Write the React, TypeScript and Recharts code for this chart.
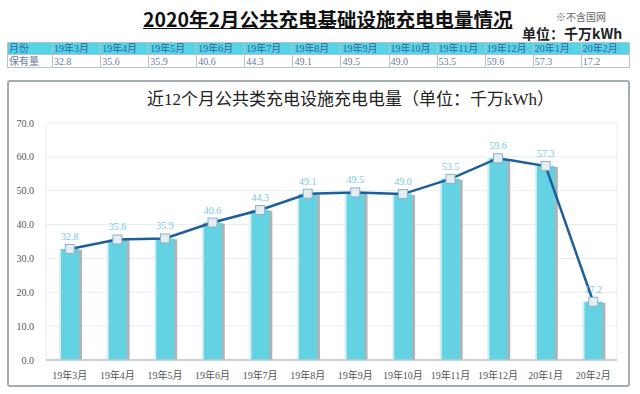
import React from "react";
import {
  ComposedChart,
  Bar,
  Line,
  XAxis,
  YAxis,
  CartesianGrid,
  LabelList,
} from "recharts";

const MONTHS = [
  "19年3月",
  "19年4月",
  "19年5月",
  "19年6月",
  "19年7月",
  "19年8月",
  "19年9月",
  "19年10月",
  "19年11月",
  "19年12月",
  "20年1月",
  "20年2月",
];
const VALUES = [32.8, 35.6, 35.9, 40.6, 44.3, 49.1, 49.5, 49.0, 53.5, 59.6, 57.3, 17.2];
const Y_TICKS = [0, 10, 20, 30, 40, 50, 60, 70];

const SERIF = '"Liberation Serif", "DejaVu Serif", "Noto Sans CJK SC", serif';
const CJK = '"Noto Sans CJK SC", sans-serif';

const data = MONTHS.map((m, i) => ({ month: m, value: VALUES[i] }));

const BarShape = (props: any) => {
  const { x, y, width, height } = props;
  if (!height || height <= 0) return null;
  return (
    <g>
      <rect x={x + width - 1} y={y + 1} width={4} height={height - 1} fill="#aeb3b6" />
      <rect x={x - 2} y={y} width={2} height={height} fill="#d5eff3" />
      <rect x={x} y={y} width={width} height={height} fill="#63d3e3" />
    </g>
  );
};

const SquareDot = (props: any) => {
  const { cx, cy } = props;
  if (cx == null || cy == null) return null;
  return (
    <rect
      x={cx - 4.5}
      y={cy - 4.5}
      width={9}
      height={9}
      fill="#e3edf2"
      stroke="#8fb0c4"
      strokeWidth={1}
    />
  );
};

const cell: React.CSSProperties = {
  border: "1px solid #b9c2c6",
  padding: "0 1px",
  height: 11,
  lineHeight: "11px",
  fontSize: 10,
  whiteSpace: "nowrap",
  overflow: "hidden",
};

export default function App() {
  return (
    <div
      style={{
        position: "absolute",
        left: 0,
        top: 0,
        width: 640,
        height: 394,
        background: "#fff",
        fontFamily: SERIF,
        overflow: "hidden",
      }}
    >
      <div
        style={{
          position: "absolute",
          left: 143,
          top: 6,
          width: 370,
          fontFamily: CJK,
          fontWeight: 700,
          fontSize: 19.5,
          lineHeight: "26px",
          color: "#111",
          textDecoration: "underline",
          whiteSpace: "nowrap",
        }}
      >
        2020年2月公共充电基础设施充电电量情况
      </div>
      <div
        style={{
          position: "absolute",
          left: 556,
          top: 11,
          fontFamily: CJK,
          fontSize: 10,
          lineHeight: "12px",
          color: "#666",
          whiteSpace: "nowrap",
        }}
      >
        ※不含国网
      </div>
      <div
        style={{
          position: "absolute",
          left: 522,
          top: 25,
          fontFamily: CJK,
          fontWeight: 700,
          fontSize: 14,
          lineHeight: "16px",
          color: "#222",
          whiteSpace: "nowrap",
        }}
      >
        单位：千万kWh
      </div>

      <table
        style={{
          position: "absolute",
          left: 7,
          top: 42,
          width: 623,
          borderCollapse: "collapse",
          tableLayout: "fixed",
          fontFamily: SERIF,
        }}
      >
        <colgroup>
          <col style={{ width: 45 }} />
          {MONTHS.map((m) => (
            <col key={m} style={{ width: 48 }} />
          ))}
        </colgroup>
        <tbody>
          <tr style={{ background: "#53d5e6", color: "#3b5fa8" }}>
            <td style={cell}>月份</td>
            {MONTHS.map((m) => (
              <td key={m} style={cell}>
                {m}
              </td>
            ))}
          </tr>
          <tr style={{ color: "#6b7d99" }}>
            <td style={{ ...cell, height: 12 }}>保有量</td>
            {VALUES.map((v, i) => (
              <td key={i} style={{ ...cell, height: 12 }}>
                {v.toFixed(1)}
              </td>
            ))}
          </tr>
        </tbody>
      </table>

      <div
        style={{
          position: "absolute",
          left: 7,
          top: 80,
          width: 623,
          height: 307,
          boxSizing: "border-box",
          border: "2px solid #a3adb2",
          borderRadius: 3,
        }}
      >
        <div
          style={{
            position: "absolute",
            left: 138,
            top: 3,
            fontFamily: SERIF,
            fontSize: 17,
            color: "#222",
            whiteSpace: "nowrap",
          }}
        >
          近12个月公共类充电设施充电电量（单位：千万kWh）
        </div>
        <ComposedChart
          width={619}
          height={303}
          data={data}
          margin={{ top: 41, right: 11, left: 0, bottom: 5 }}
        >
          <CartesianGrid
            stroke="#e6edf0"
            vertical={true}
            verticalCoordinatesGenerator={({ offset }: any) => [
              offset.left,
              offset.left + offset.width,
            ]}
          />
          <XAxis
            dataKey="month"
            height={20}
            tickLine={false}
            tickSize={0}
            tickMargin={12}
            axisLine={{ stroke: "#bfc6c9", strokeWidth: 1.5 }}
            interval={0}
            tick={{ fontSize: 10, fill: "#555", fontFamily: SERIF }}
          />
          <YAxis
            width={37}
            domain={[0, 70]}
            ticks={Y_TICKS}
            tickFormatter={(v: number) => v.toFixed(1)}
            axisLine={false}
            tickLine={false}
            tickSize={0}
            tickMargin={12}
            tick={{ fontSize: 10, fill: "#555", fontFamily: SERIF }}
          />
          <Bar
            dataKey="value"
            barSize={18}
            shape={BarShape}
            isAnimationActive={false}
          />
          <Line
            dataKey="value"
            stroke="#1d5f9b"
            strokeWidth={2.5}
            dot={<SquareDot />}
            activeDot={false}
            isAnimationActive={false}
          >
            <LabelList
              dataKey="value"
              position="top"
              offset={9}
              formatter={(v: any) => Number(v).toFixed(1)}
              style={{ fontSize: 10, fill: "#7cc5e1", fontFamily: SERIF }}
            />
          </Line>
        </ComposedChart>
      </div>
    </div>
  );
}
